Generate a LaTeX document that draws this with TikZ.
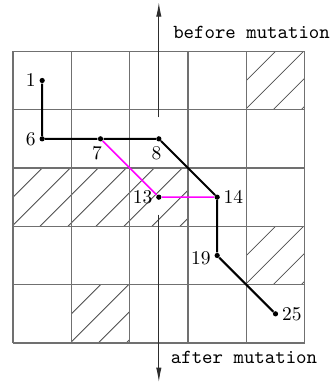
\documentclass[tikz,border=0pt]{standalone}
\usetikzlibrary{arrows.meta,positioning}
\usepackage{xcolor}
\definecolor{GridGray}{HTML}{707070}
\definecolor{SwapPink}{HTML}{FF00FF}

\begin{document}
\begin{tikzpicture}[x=1cm,y=1cm,
  cell/.style={draw=GridGray,line width=0.5pt},
  hatch/.style={GridGray!70!black,line width=0.4pt},
  pt/.style={circle,fill=black,inner sep=0pt,minimum size=0.09cm},
  num/.style={font=\fontsize{9.5}{10}\selectfont,inner sep=1pt},
  route/.style={black,line width=1pt},
  swap/.style={SwapPink,line width=0.8pt},
  marker/.style={GridGray!40!black,line width=0.5pt,-{Latex[length=7pt,width=2.6pt]}},
  tag/.style={font=\ttfamily\fontsize{9.7}{11}\selectfont,anchor=west,inner sep=0pt}]
\useasboundingbox (-0.223,-0.72) rectangle (5.49,5.88);
% blocked cells
\foreach \cx/\cy/\w in {4/4/1,0/2/3,4/1/1,1/0/1}{
  \begin{scope}
    \clip (\cx,\cy) rectangle ++(\w,1);
    \foreach \k in {-2,...,6}
      \draw[hatch] ({\cx+0.46+0.48*\k},\cy) -- ++(1,1);
  \end{scope}}
\draw[cell] (0,0) grid (5,5);
% mutation axis
\coordinate (topstart) at (2.5,3.87);
\coordinate (topend) at (2.5,5.84);
\coordinate (botstart) at (2.5,2.2);
\coordinate (botend) at (2.5,-0.67);
\draw[marker] (topstart) -- (topend);
\draw[marker] (botstart) -- (botend);
\node[tag] (before) at (2.74,5.32) {before mutation};
\node[tag] (after) at (2.70,-0.24) {after mutation};
% path cells
\node[pt,label={[num,label distance=0.5pt]left:1}] (n1) at (0.5,4.5) {};
\node[pt,label={[num,label distance=0.5pt]left:6}] (n6) at (0.5,3.5) {};
\node[pt,label={[num,label distance=1pt,xshift=-0.06cm]below:7}] (n7) at (1.5,3.5) {};
\node[pt,label={[num,label distance=1pt,xshift=-0.04cm]below:8}] (n8) at (2.5,3.5) {};
\node[pt,label={[num,label distance=0.5pt]left:13}] (n13) at (2.5,2.5) {};
\node[pt,label={[num,label distance=0.5pt]right:14}] (n14) at (3.5,2.5) {};
\node[pt,label={[num,label distance=0.5pt,yshift=-0.05cm]left:19}] (n19) at (3.5,1.5) {};
\node[pt,label={[num,label distance=0.5pt]right:25}] (n25) at (4.5,0.5) {};
\draw[swap] (n7) -- (n13) -- (n14);
\draw[route] (n1) -- (n6) -- (n7) -- (n8) -- (n14) -- (n19) -- (n25);
\end{tikzpicture}
\end{document}
